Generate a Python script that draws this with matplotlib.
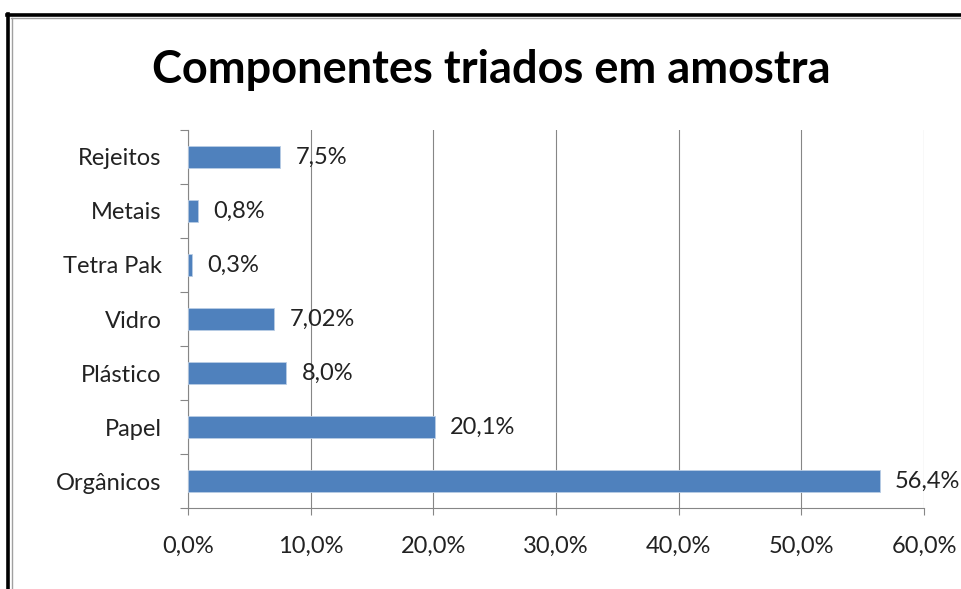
import matplotlib.pyplot as plt
import numpy as np
from matplotlib.lines import Line2D
from matplotlib.ticker import FixedLocator

categories = ['Orgânicos', 'Papel', 'Plástico', 'Vidro', 'Tetra Pak', 'Metais', 'Rejeitos']
values = [56.4, 20.1, 8.0, 7.02, 0.3, 0.8, 7.5]
value_labels = ['56,4%', '20,1%', '8,0%', '7,02%', '0,3%', '0,8%', '7,5%']
x_ticks = [0, 10, 20, 30, 40, 50, 60]
x_tick_labels = ['0,0%', '10,0%', '20,0%', '30,0%', '40,0%', '50,0%', '60,0%']

plt.rcParams['font.family'] = ['Lato', 'DejaVu Sans']

fig = plt.figure(figsize=(9.61, 5.89), dpi=100)
ax = fig.add_axes([0.1956, 0.1375, 0.7659, 0.6418])

y = np.arange(len(categories))
ax.barh(y, values, height=0.4, color='#4F81BD', edgecolor='#B9CDE5', linewidth=0.6, zorder=3)

for yi, v, lab in zip(y, values, value_labels):
    ax.annotate(lab, (v, yi), xytext=(11, 0), textcoords='offset points',
                va='center', ha='left', fontsize=17, color='#222222', zorder=4)

ax.set_xlim(0, 60)
ax.set_ylim(-0.5, len(categories) - 0.5)
ax.set_xticks(x_ticks)
ax.set_xticklabels(x_tick_labels, fontsize=17, color='#222222')
ax.set_yticks(y)
ax.set_yticklabels(categories, fontsize=17, color='#222222')
ax.yaxis.set_minor_locator(FixedLocator(np.arange(-0.5, len(categories), 1.0)))
ax.tick_params(axis='y', which='major', length=0, pad=19)
ax.tick_params(axis='y', which='minor', length=6, color='#868686', width=0.8)
ax.tick_params(axis='x', length=5, color='#868686', width=0.8, pad=15)

ax.grid(axis='x', color='#868686', linewidth=0.8, zorder=0)
for side in ['top', 'right']:
    ax.spines[side].set_visible(False)
for side in ['left', 'bottom']:
    ax.spines[side].set_color('#868686')
    ax.spines[side].set_linewidth(0.8)

fig.text(0.511, 0.881, 'Componentes triados em amostra', ha='center', va='center',
         fontsize=32.5, fontweight='bold', color='black')

# outer frame (top + left)
fig.add_artist(Line2D([0.0073, 1.0], [0.9745, 0.9745], color='black', linewidth=2.6))
fig.add_artist(Line2D([0.0115, 1.0], [0.9695, 0.9695], color='#A0A0A0', linewidth=1.0))
fig.add_artist(Line2D([0.0083, 0.0083], [0.0, 0.9768], color='black', linewidth=2.6))
fig.add_artist(Line2D([0.0125, 0.0125], [0.0, 0.9695], color='#A0A0A0', linewidth=1.0))

fig.savefig('out.png', dpi=100)
